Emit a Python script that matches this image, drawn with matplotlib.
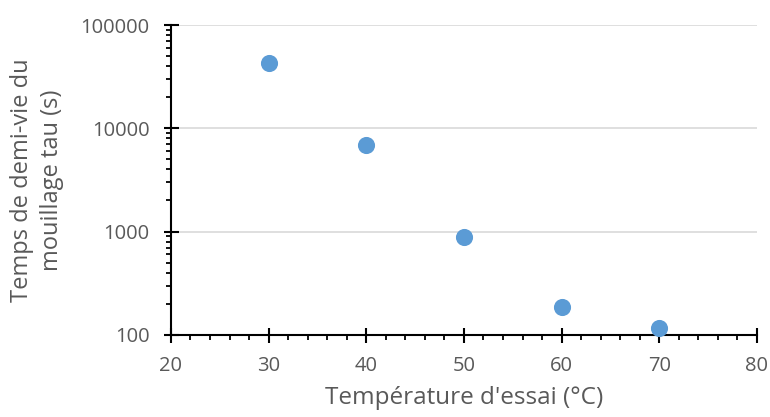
import matplotlib.pyplot as plt
from matplotlib.ticker import FixedLocator, NullFormatter

temperature = [30, 40, 50, 60, 70]
tau = [42800, 6850, 895, 187, 117]

plt.rcParams['font.family'] = ['Open Sans', 'DejaVu Sans']
gray = '#595959'

fig = plt.figure(figsize=(7.7, 4.17), dpi=100)
ax = fig.add_axes([0.222, 0.197, 0.761, 0.743])

ax.scatter(temperature, tau, s=128, color='#5B9BD5', zorder=3, clip_on=False)

ax.set_yscale('log')
ax.set_xlim(20, 80)
ax.set_ylim(100, 100000)
ax.set_xticks([20, 30, 40, 50, 60, 70, 80])
ax.set_yticks([100, 1000, 10000, 100000])
ax.set_yticklabels(['100', '1000', '10000', '100000'])
ax.xaxis.set_minor_locator(FixedLocator([x for x in range(22, 80, 2) if x % 10]))
minor_y = [m * 10 ** e for e in range(2, 5) for m in range(2, 10)]
ax.yaxis.set_minor_locator(FixedLocator(minor_y))
ax.yaxis.set_minor_formatter(NullFormatter())

ax.grid(axis='y', which='major', color='#D9D9D9', linewidth=1.2)
ax.set_axisbelow(True)
for s in ['top', 'right']:
    ax.spines[s].set_visible(False)
for s in ['left', 'bottom']:
    ax.spines[s].set_color('black')
    ax.spines[s].set_linewidth(1.5)

ax.tick_params(which='major', direction='inout', length=10.8, width=1.5, color='black',
               labelsize=14.5, labelcolor=gray, pad=10)
ax.tick_params(which='minor', direction='out', length=3.6, width=1.3, color='black')

ax.set_xlabel("Température d'essai (°C)", fontsize=17.5, color=gray, labelpad=7)
ax.set_ylabel("Temps de demi-vie du\nmouillage tau (s)", fontsize=17, color=gray, labelpad=12,
              linespacing=1.3)

fig.savefig('out.png', dpi=100)
